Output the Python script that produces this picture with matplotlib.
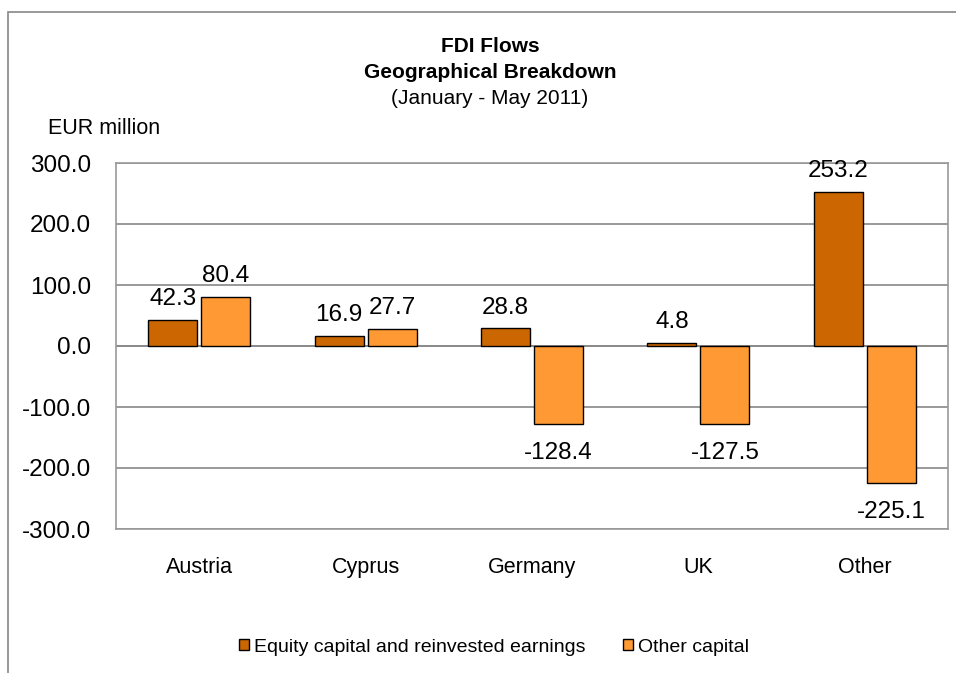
import matplotlib
matplotlib.use("Agg")
import matplotlib.pyplot as plt
import numpy as np
from matplotlib.patches import Rectangle

categories = ["Austria", "Cyprus", "Germany", "UK", "Other"]
equity = [42.3, 16.9, 28.8, 4.8, 253.2]
other_capital = [80.4, 27.7, -128.4, -127.5, -225.1]
series_names = ["Equity capital and reinvested earnings", "Other capital"]
yticks = [-300, -200, -100, 0, 100, 200, 300]

plt.rcParams['font.family'] = ['Liberation Sans', 'DejaVu Sans']

W, H = 956, 673
fig = plt.figure(figsize=(W / 100, H / 100), dpi=100)

# outer chart frame (extends beyond right/bottom)
fig.add_artist(Rectangle((8 / W, -0.1), 1.0, (H - 12) / H + 0.1, transform=fig.transFigure,
                         fill=False, edgecolor='#888888', linewidth=1.2))

x0, x1, ytop, ybot = 116, 948, 163, 529
ax = fig.add_axes([x0 / W, 1 - ybot / H, (x1 - x0) / W, (ybot - ytop) / H])

x = np.arange(len(categories))
bw = 0.294
gap = 0.024
c1, c2 = '#CC6600', '#FF9933'
b1 = ax.bar(x - bw / 2 - gap / 2, equity, bw, color=c1, edgecolor='black', linewidth=1, zorder=3)
b2 = ax.bar(x + bw / 2 + gap / 2, other_capital, bw, color=c2, edgecolor='black', linewidth=1, zorder=3)

ax.set_xlim(-0.5, len(categories) - 0.5)
ax.set_ylim(-300, 300)
ax.set_yticks(yticks)
ax.set_yticklabels([f"{v:.1f}" for v in yticks], fontsize=17.5)
ax.set_xticks(x)
ax.set_xticklabels(categories, fontsize=15.5)
ax.tick_params(axis='both', length=0)
ax.tick_params(axis='y', pad=18)
ax.tick_params(axis='x', pad=20)
ax.yaxis.grid(True, color='#888888', linewidth=1.2, zorder=0)
ax.axhline(0, color='#888888', linewidth=1.2, zorder=2)
for s in ax.spines.values():
    s.set_color('#999999')
    s.set_linewidth(1.2)

for bars, vals in ((b1, equity), (b2, other_capital)):
    for rect, v in zip(bars, vals):
        cx = rect.get_x() + rect.get_width() / 2
        if v >= 0:
            ax.annotate(f"{v:.1f}", (cx, v), xytext=(0, 7), textcoords='offset points',
                        ha='center', va='bottom', fontsize=17.5)
        else:
            ax.annotate(f"{v:.1f}", (cx, v), xytext=(0, -13), textcoords='offset points',
                        ha='center', va='top', fontsize=17.5)

fig.text(490 / W, 1 - 46 / H, "FDI Flows", ha='center', va='center', fontsize=15, fontweight='bold')
fig.text(490 / W, 1 - 73 / H, "Geographical Breakdown", ha='center', va='center', fontsize=15, fontweight='bold')
fig.text(490 / W, 1 - 98 / H, "(January - May 2011)", ha='center', va='center', fontsize=15)
fig.text(48 / W, 1 - 128 / H, "EUR million", ha='left', va='center', fontsize=15.5)

handles = [Rectangle((0, 0), 1, 1, facecolor=c1, edgecolor='black'),
           Rectangle((0, 0), 1, 1, facecolor=c2, edgecolor='black')]
fig.legend(handles, series_names, loc='center', bbox_to_anchor=(494 / W, 1 - 647 / H), ncol=2,
           frameon=False, fontsize=14, handlelength=0.55, handleheight=0.55, handletextpad=0.25,
           columnspacing=1.9)

fig.savefig("out.png", dpi=100)
